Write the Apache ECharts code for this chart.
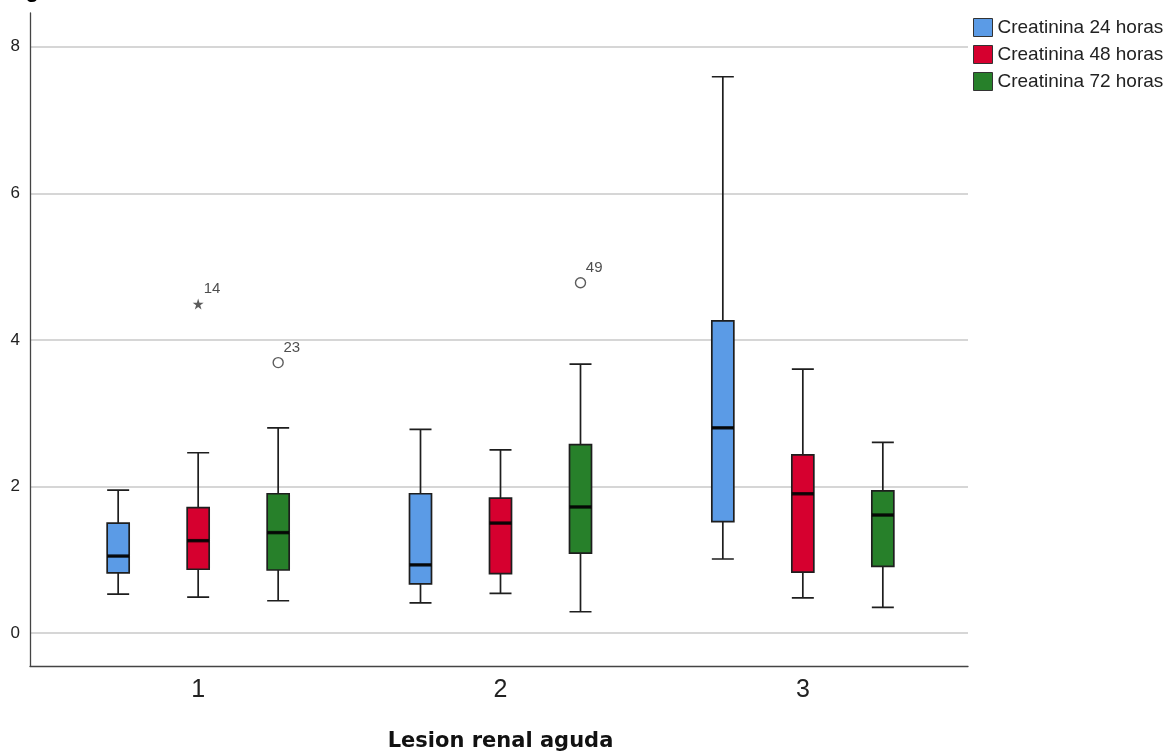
<!DOCTYPE html>
<html>
<head>
<meta charset="utf-8">
<script src="https://cdn.jsdelivr.net/npm/echarts@6/dist/echarts.min.js"></script>
<style>
   html, body { margin: 0; padding: 0; background: #fff; }
   #chart { width: 1171px; height: 753px; }
</style>
</head>
<body>
<div id="chart"></div>
<script>
   var categories = ['1', '2', '3'];
   var seriesNames = ['Creatinina 24 horas', 'Creatinina 48 horas', 'Creatinina 72 horas'];
   // [min, Q1, mediana, Q3, max] por categoria
   var box24 = [[0.53, 0.82, 1.05, 1.50, 1.95], [0.41, 0.67, 0.93, 1.90, 2.78], [1.01, 1.52, 2.80, 4.26, 7.59]];
   var box48 = [[0.49, 0.87, 1.26, 1.71, 2.46], [0.54, 0.81, 1.50, 1.84, 2.50], [0.48, 0.83, 1.90, 2.43, 3.60]];
   var box72 = [[0.44, 0.86, 1.37, 1.90, 2.80], [0.29, 1.09, 1.72, 2.57, 3.67], [0.35, 0.91, 1.61, 1.94, 2.60]];
   // atipicos: [categoria, valor, caso]
   var extremes48 = [['1', 4.49, '14']];
   var outliers72 = [['1', 3.69, '23'], ['2', 4.78, '49']];
   var yMin = -0.45, yMax = 8.46;
   var colors = ['#5b9be6', '#d6002f', '#27802a'];

   var chart = echarts.init(document.getElementById('chart'));
   var boxes = [box24, box48, box72];
   // una rejilla por serie, desplazada para separar las cajas dentro del grupo
   var offsets = [-80, 0, 80];
   var grids = [{left: 30, right: 203, top: 13, bottom: 87, outerBoundsMode: 'none'}];
   var xAxes = [{
      gridIndex: 0, type: 'value', min: 0, max: 1,
      axisLine: {onZero: false, lineStyle: {color: '#444', width: 1.3}},
      axisTick: {show: false}, axisLabel: {show: false}, splitLine: {show: false}
   }];
   var yAxes = [{
      gridIndex: 0, type: 'value', min: yMin, max: yMax, splitNumber: 5,
      axisLine: {show: true, onZero: false, lineStyle: {color: '#444', width: 1.3}},
      axisTick: {show: false},
      axisLabel: {showMinLabel: false, showMaxLabel: false, fontSize: 17, color: '#222', margin: 10, fontFamily: 'Liberation Sans'},
      splitLine: {show: true, showMinLine: false, showMaxLine: false, lineStyle: {color: '#c8c8c8', width: 1.6}}
   }];
   var series = [];
   offsets.forEach(function(off, i){
      grids.push({left: 47 + off, right: 217 - off, top: 13, bottom: 87, outerBoundsMode: 'none'});
      xAxes.push({
         gridIndex: i + 1, type: 'category', data: categories,
         axisLine: {show: false}, axisTick: {show: false}, splitLine: {show: false},
         axisLabel: {show: i === 1, fontSize: 25, color: '#222', margin: 12, fontFamily: 'Liberation Sans'},
         name: i === 1 ? 'Lesion renal aguda' : '', nameLocation: 'middle', nameGap: 65,
         nameTextStyle: {fontSize: 21, fontWeight: 'bold', color: '#111', fontFamily: 'DejaVu Sans'}
      });
      yAxes.push({gridIndex: i + 1, type: 'value', min: yMin, max: yMax, show: false, splitLine: {show: false}});
      series.push({
         name: seriesNames[i], type: 'boxplot', xAxisIndex: i + 1, yAxisIndex: i + 1,
         data: boxes[i], boxWidth: [22, 22], silent: true,
         itemStyle: {color: colors[i], borderColor: '#1e1e1e', borderWidth: 1.7}
      });
   });
   // linea de mediana mas gruesa
   boxes.forEach(function(b, i){
      series.push({
         type: 'scatter', xAxisIndex: i + 1, yAxisIndex: i + 1, silent: true, z: 5,
         symbol: 'rect', symbolSize: [22, 3.5], itemStyle: {color: '#000'},
         data: b.map(function(v, j){ return [categories[j], v[2]]; })
      });
   });
   var outLabel = {
      show: true, position: [11, -17], fontSize: 15, color: '#222', fontFamily: 'Liberation Sans',
      formatter: function(p){ return p.data[2]; }
   };
   series.push({
      type: 'scatter', xAxisIndex: 2, yAxisIndex: 2, silent: true, z: 6,
      symbol: 'path://M50,0 L61,35 L98,35 L68,57 L79,91 L50,70 L21,91 L32,57 L2,35 L39,35 Z',
      symbolSize: 11, itemStyle: {color: '#333'}, label: outLabel, data: extremes48
   });
   series.push({
      type: 'scatter', xAxisIndex: 3, yAxisIndex: 3, silent: true, z: 6,
      symbol: 'circle', symbolSize: 10, itemStyle: {color: '#fff', borderColor: '#333', borderWidth: 1.4},
      label: outLabel, data: outliers72
   });

   var option = {
      animation: false,
      title: {text: 'Figura', left: 1, top: -25, textStyle: {fontSize: 22, fontWeight: 'bold', color: '#000', fontFamily: 'Liberation Sans'}},
      legend: {
         data: seriesNames.map(function(n, i){ return {name: n, itemStyle: {color: colors[i], borderColor: '#333', borderWidth: 1}}; }),
         orient: 'vertical', left: 968, top: 13,
         icon: 'rect', itemWidth: 19, itemHeight: 18, itemGap: 8,
         textStyle: {fontSize: 19, lineHeight: 18, color: '#222', fontFamily: 'Liberation Sans'}
      },
      grid: grids,
      xAxis: xAxes,
      yAxis: yAxes,
      series: series
   };
   chart.setOption(option);
</script>
</body>
</html>
